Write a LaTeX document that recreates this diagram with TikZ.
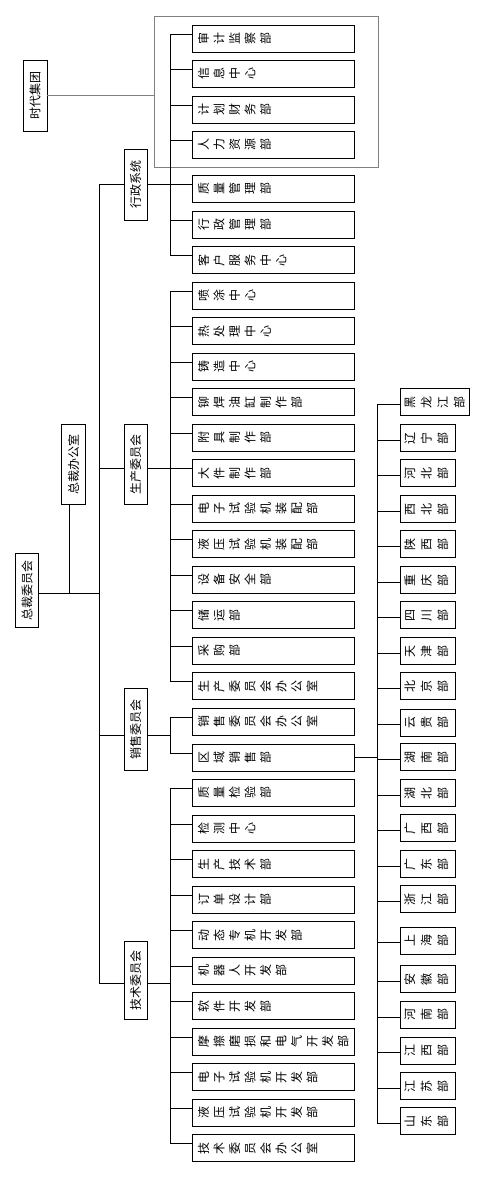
\documentclass[tikz,border=0pt]{standalone}
\usepackage{fontspec}
\setmainfont{Noto Sans CJK SC}
\usepackage{graphicx}
\usetikzlibrary{calc}
\newcommand{\rch}[1]{\rotatebox{90}{\rule[-0.12em]{0pt}{1em}#1}}
\def\rcloop#1{\ifx#1\relax\else\rch{#1}\kern\rkern\relax\expandafter\rcloop\fi}
\newcommand{\rtext}[2][3.5pt]{\def\rkern{#1}\rcloop#2\relax}
\begin{document}
\begin{tikzpicture}[x=1pt,y=-1pt,line width=0.9pt,
  leaf/.style={draw,anchor=north west,minimum height=27pt,inner xsep=5pt,inner ysep=0pt,text width=152pt,align=left,font=\fontsize{12}{12}\selectfont},
  reg/.style={draw,anchor=north west,minimum height=27pt,inner xsep=3pt,inner ysep=0pt,text width=49pt,align=left,font=\fontsize{12}{12}\selectfont},
  vbox/.style={draw,inner sep=0pt,minimum width=23pt,font=\fontsize{12}{12}\selectfont},
  graybox/.style={draw=black!50,line width=0.8pt,anchor=north west,inner sep=0pt}]
\fill[white] (0,0) rectangle (483,1177);
\useasboundingbox (0,0) rectangle (483,1177);

% frame around the group departments
\node[graybox,minimum width=224pt,minimum height=151pt] (grp) at (154,16) {};

% top level
\node[vbox,minimum width=24pt,minimum height=71pt] (SD) at (35,95.5) {\rotatebox{90}{时代集团}};
\node[vbox,minimum height=74.4pt] (ZC) at (27.2,590.5) {\rotatebox{90}{总裁委员会}};
\node[vbox,minimum width=23.6pt,minimum height=80pt] (ZB) at (73.5,464.3) {\rotatebox{90}{总裁办公室}};

% second level
\node[vbox,minimum height=71pt] (XZ) at (135.5,184.5) {\rotatebox{90}{行政系统}};
\node[vbox,minimum height=80pt] (SC) at (135.5,464.3) {\rotatebox{90}{生产委员会}};
\node[vbox,minimum height=82pt] (XS) at (135.5,729.3) {\rotatebox{90}{销售委员会}};
\node[vbox,minimum height=77.6pt] (JS) at (135.5,980.5) {\rotatebox{90}{技术委员会}};

% departments
\node[leaf] (L1) at (192,25) {\rtext{审计监察部}};
\node[leaf] (L2) at (192,60) {\rtext{信息中心}};
\node[leaf] (L3) at (192,96) {\rtext{计划财务部}};
\node[leaf] (L4) at (192,131) {\rtext{人力资源部}};
\node[leaf] (L5) at (192,175) {\rtext{质量管理部}};
\node[leaf] (L6) at (192,210.5) {\rtext{行政管理部}};
\node[leaf] (L7) at (192,246.1) {\rtext{客户服务中心}};
\node[leaf] (L8) at (192,281.6) {\rtext{喷涂中心}};
\node[leaf] (L9) at (192,317.1) {\rtext{热处理中心}};
\node[leaf] (L10) at (192,352.7) {\rtext{铸造中心}};
\node[leaf] (L11) at (192,388.2) {\rtext{铆焊油缸制作部}};
\node[leaf] (L12) at (192,423.7) {\rtext{附具制作部}};
\node[leaf] (L13) at (192,459.2) {\rtext{大件制作部}};
\node[leaf] (L14) at (192,494.8) {\rtext{电子试验机装配部}};
\node[leaf] (L15) at (192,530.3) {\rtext{液压试验机装配部}};
\node[leaf] (L16) at (192,565.8) {\rtext{设备安全部}};
\node[leaf] (L17) at (192,601.4) {\rtext{储运部}};
\node[leaf] (L18) at (192,636.9) {\rtext{采购部}};
\node[leaf] (L19) at (192,672.4) {\rtext{生产委员会办公室}};
\node[leaf] (L20) at (192,708.0) {\rtext{销售委员会办公室}};
\node[leaf] (L21) at (192,743.5) {\rtext{区域销售部}};
\node[leaf] (L22) at (192,779.0) {\rtext{质量检验部}};
\node[leaf] (L23) at (192,814.5) {\rtext{检测中心}};
\node[leaf] (L24) at (192,850.1) {\rtext{生产技术部}};
\node[leaf] (L25) at (192,885.6) {\rtext{订单设计部}};
\node[leaf] (L26) at (192,921.1) {\rtext{动态专机开发部}};
\node[leaf] (L27) at (192,956.7) {\rtext{机器人开发部}};
\node[leaf] (L28) at (192,992.2) {\rtext{软件开发部}};
\node[leaf] (L29) at (192,1027.7) {\rtext{摩擦磨损和电气开发部}};
\node[leaf] (L30) at (192,1063.2) {\rtext{电子试验机开发部}};
\node[leaf] (L31) at (192,1098.8) {\rtext{液压试验机开发部}};
\node[leaf] (L32) at (192,1134.3) {\rtext{技术委员会办公室}};

% regional offices
\node[reg,text width=63pt] (R1) at (400.3,388.3) {\rtext[4.5pt]{黑龙江部}};
\node[reg] (R2) at (400.3,424.3) {\rtext[4.5pt]{辽宁部}};
\node[reg] (R3) at (400.3,459.3) {\rtext[4.5pt]{河北部}};
\node[reg] (R4) at (400.3,495.3) {\rtext[4.5pt]{西北部}};
\node[reg] (R5) at (400.3,530.3) {\rtext[4.5pt]{陕西部}};
\node[reg] (R6) at (400.3,566.3) {\rtext[4.5pt]{重庆部}};
\node[reg] (R7) at (400.3,601.3) {\rtext[4.5pt]{四川部}};
\node[reg] (R8) at (400.3,637.3) {\rtext[4.5pt]{天津部}};
\node[reg] (R9) at (400.3,672.3) {\rtext[4.5pt]{北京部}};
\node[reg] (R10) at (400.3,708.7) {\rtext[4.5pt]{云贵部}};
\node[reg] (R11) at (400.3,743.3) {\rtext[4.5pt]{湖南部}};
\node[reg] (R12) at (400.3,779.3) {\rtext[4.5pt]{湖北部}};
\node[reg] (R13) at (400.3,814.3) {\rtext[4.5pt]{广西部}};
\node[reg] (R14) at (400.3,850.3) {\rtext[4.5pt]{广东部}};
\node[reg] (R15) at (400.3,885.3) {\rtext[4.5pt]{浙江部}};
\node[reg] (R16) at (400.3,926.7) {\rtext[4.5pt]{上海部}};
\node[reg] (R17) at (400.3,965.3) {\rtext[4.5pt]{安徽部}};
\node[reg] (R18) at (400.3,1001) {\rtext[4.5pt]{河南部}};
\node[reg] (R19) at (400.3,1036.7) {\rtext[4.5pt]{江西部}};
\node[reg] (R20) at (400.3,1072.3) {\rtext[4.5pt]{江苏部}};
\node[reg] (R21) at (400.3,1107.3) {\rtext[4.5pt]{山东部}};

% stub points
\foreach \k in {1,...,32} \coordinate (s\k) at ([yshift=4.5pt]L\k.west);
\foreach \k in {1,...,21} \coordinate (r\k) at ([yshift=-2pt]R\k.west);
\coordinate (sm) at ($(s20)!0.5!(s21)$);
\coordinate (tm) at ($(s27)!0.5!(s28)$);
\coordinate (j0) at (100.3,593);
\coordinate (rsp) at ([xshift=-22.6pt]r1);

% department spines
\draw (s1) -- ++(-22pt,0) |- (s7);
\foreach \k in {2,...,6} \draw (s\k) -- ++(-22pt,0);
\draw (s8) -- ++(-22pt,0) |- (s19);
\foreach \k in {9,...,18} \draw (s\k) -- ++(-22pt,0);
\draw (s20) -- ++(-22pt,0) |- (s21);
\draw (s22) -- ++(-22pt,0) |- (s32);
\foreach \k in {23,...,31} \draw (s\k) -- ++(-22pt,0);

% second level to spines
\draw (XZ.east |- s5) -- ([xshift=-22pt]s5);
\draw (SC.east |- s13) -- ([xshift=-22pt]s13);
\draw (XS.east |- sm) -- ([xshift=-22pt]sm);
\draw (JS.east |- tm) -- ([xshift=-22pt]tm);

% first level spine
\draw (XZ.west |- s5) -- ++(-24pt,0) |- (JS.west |- tm);
\draw (SC.west |- s13) -- ++(-24pt,0);
\draw (XS.west |- sm) -- ++(-24pt,0);
\draw (ZC.east |- j0) -- (j0);
\draw ([xshift=-4.2pt]ZB.south) -- ([xshift=-4.2pt]ZB.south |- j0);

% group link
\draw[black!50,line width=0.8pt] (SD.east) -- (SD.east -| grp.west);

% regional spine
\draw (r1) -- ++(-22.6pt,0) |- (r21);
\foreach \k in {2,...,20} \draw (r\k) -- ++(-22.6pt,0);
\draw (L21.east) -- (L21.east -| rsp);
\end{tikzpicture}
\end{document}
